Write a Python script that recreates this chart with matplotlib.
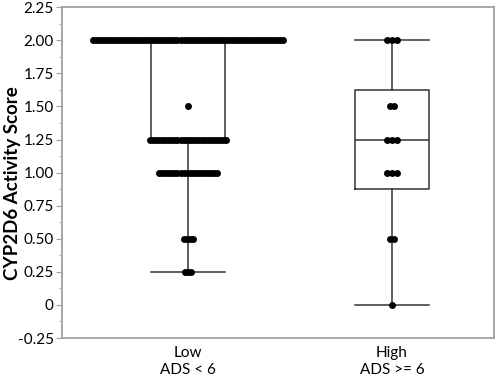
import numpy as np
import matplotlib
matplotlib.use("Agg")
import matplotlib.pyplot as plt
from matplotlib.ticker import FixedLocator, FuncFormatter

# data: activity score -> number of patients per group
groups = ["Low\nADS < 6", "High\nADS >= 6"]
scores = [0.0, 0.25, 0.5, 1.0, 1.25, 1.5, 2.0]
low_counts = [0, 3, 4, 20, 26, 1, 64]
high_counts = [1, 0, 2, 3, 3, 2, 3]
yticks = [-0.25, 0, 0.25, 0.5, 0.75, 1.0, 1.25, 1.5, 1.75, 2.0, 2.25]

plt.rcParams['font.family'] = ['Lato', 'DejaVu Sans']

fig = plt.figure(figsize=(4.98, 3.78), dpi=100)
ax = fig.add_axes([0.1245, 0.1058, 0.8675, 0.8752])

# box stats, JMP style quantiles ((n+1)p)
stats = []
for counts in [low_counts, high_counts]:
    vals = np.repeat(scores, counts)
    q1, med, q3 = np.percentile(vals, [25, 50, 75], method="weibull")
    iqr = q3 - q1
    lo = vals[vals >= q1 - 1.5 * iqr].min()
    hi = vals[vals <= q3 + 1.5 * iqr].max()
    stats.append(dict(med=med, q1=q1, q3=q3, whislo=lo, whishi=hi, fliers=[]))

line_kw = dict(color="#333333", linewidth=1.1)
ax.bxp(stats, positions=[0, 1], widths=0.36, showfliers=False,
       boxprops=line_kw, whiskerprops=line_kw, capprops=line_kw,
       medianprops=line_kw, capwidths=0.36)

# packed dots, spread sideways
spacing = [0.0148, 0.024]
for pos, counts, sp in zip([0, 1], [low_counts, high_counts], spacing):
    for s, c in zip(scores, counts):
        if c == 0:
            continue
        xs = pos + (np.arange(c) - (c - 1) / 2) * sp
        ax.plot(xs, np.full(c, s), "o", color="black", markersize=5,
                markeredgewidth=0, zorder=3)

ax.set_xlim(-0.618, 1.5)
ax.set_ylim(-0.25, 2.25)
ax.set_xticks([0, 1])
ax.set_xticklabels(groups, fontsize=11)
ax.tick_params(axis="x", length=0, pad=6)

ax.yaxis.set_major_locator(FixedLocator(yticks))
ax.yaxis.set_minor_locator(FixedLocator(np.arange(-0.125, 2.25, 0.25)))
ax.yaxis.set_major_formatter(FuncFormatter(lambda v, p: "0" if abs(v) < 1e-9 else f"{v:.2f}"))
ax.tick_params(axis="y", which="major", length=4, color="#a0a0a0", labelsize=11, pad=2)
ax.tick_params(axis="y", which="minor", length=2.5, color="#a0a0a0")

# y label placed by hand so it is not cut at the edge
fig.text(0.026, 0.515, "CYP2D6 Activity Score", rotation=90, ha="center",
         va="center", fontsize=13.5, fontweight="bold")

for sp in ax.spines.values():
    sp.set_color("#a0a0a0")
    sp.set_linewidth(1.3)

fig.savefig("out.png", dpi=100)
